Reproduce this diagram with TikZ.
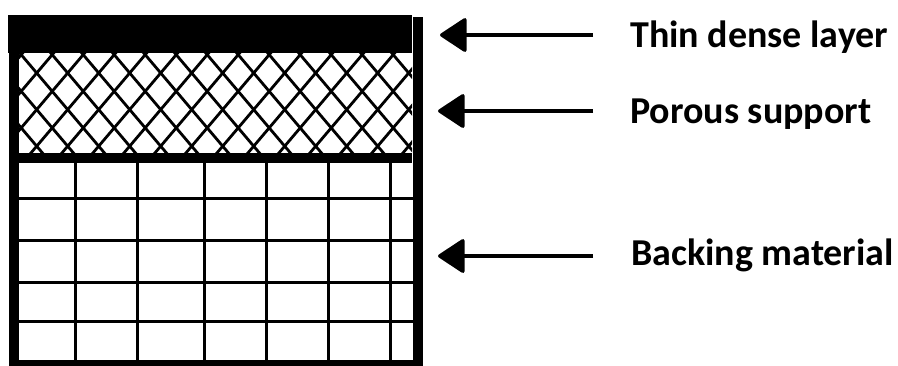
\documentclass[tikz,border=0pt]{standalone}
\usepackage{fontspec}
\setmainfont{Carlito}
\usetikzlibrary{arrows.meta}
\tikzset{
  wall/.style={fill=black, draw=none},
  gridline/.style={line width=3pt, draw=black},
  hatchline/.style={line width=2.8pt, draw=black},
  arr/.style={line width=3.4pt, -{Triangle[length=28pt,width=36pt,round]}},
  lbl/.style={anchor=base west, inner sep=0pt, font=\bfseries\fontsize{38}{42}\selectfont}
}
\begin{document}
\begin{tikzpicture}[x=1pt,y=-1pt]
\useasboundingbox (0,0) rectangle (898,365);
\begin{scope}
\clip (0,0) rectangle (898,365);
% hatched porous support
\begin{scope}
\clip (18,53) rectangle (412,154);
\foreach \k in {-10,...,20}{
  \draw[hatchline] ({36.7+31*\k+(40-73)/1.18},40) -- ({36.7+31*\k+(170-73)/1.18},170);
  \draw[hatchline] ({36.7+31*\k-(40-73)/1.18},40) -- ({36.7+31*\k-(170-73)/1.18},170);
}
\end{scope}
% backing grid
\foreach \yy in {198.5,240,282.5,321.5}{
  \draw[gridline] (18,\yy) -- (413,\yy);
}
\foreach \xx in {75.5,137.5,204,266.5,328.5,390}{
  \draw[gridline] (\xx,160) -- (\xx,362);
}
% thin dense layer
\fill[wall] (8,15) rectangle (412,53);
% separator
\fill[wall] (18,153) rectangle (412,162.5);
% walls
\fill[wall] (8.5,15) rectangle (18.5,368);
\fill[wall] (413,17) rectangle (422.5,368);
% bottom
\fill[wall] (8.5,359.5) rectangle (422.5,368);
\end{scope}
% labels
\node[lbl] (thin) at (630,47.5) {Thin dense layer};
\node[lbl] (porous) at (630,123) {Porous support};
\node[lbl] (backing) at (631,265) {Backing material};
\coordinate (s1) at (593,35);
\coordinate (e1) at (440,35);
\coordinate (s2) at (593,111);
\coordinate (e2) at (438,111);
\coordinate (s3) at (593,256);
\coordinate (e3) at (438,256);
\draw[arr] (s1) -- (e1);
\draw[arr] (s2) -- (e2);
\draw[arr] (s3) -- (e3);
\end{tikzpicture}
\end{document}
